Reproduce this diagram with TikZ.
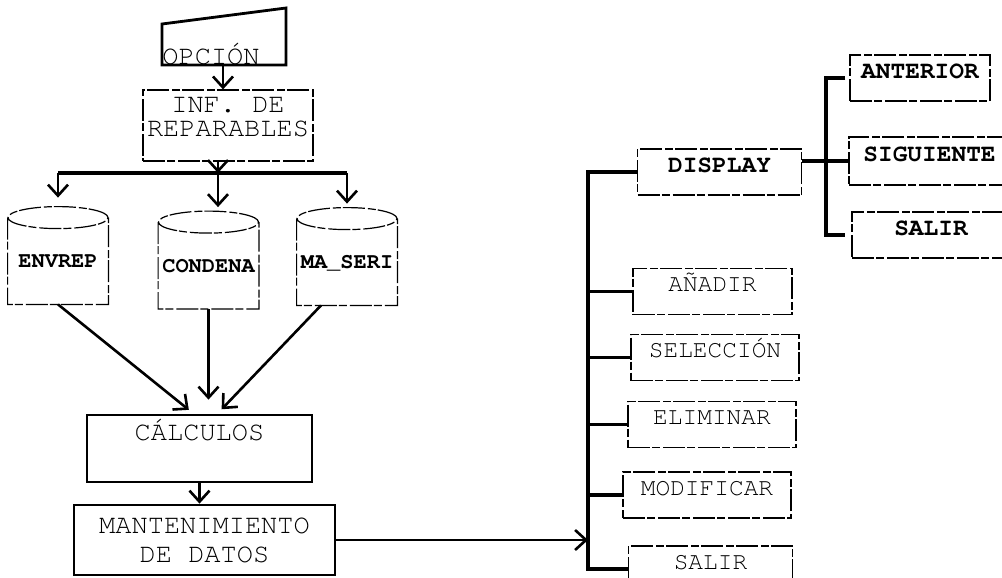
\documentclass[tikz,border=0pt]{standalone}
\usepackage[T1]{fontenc}
\usepackage{courier}
\usepackage{tikz}
\usetikzlibrary{arrows.meta, calc}

\begin{document}
\begin{tikzpicture}[x=0.5pt, y=-0.5pt,
    dbox/.style={draw, line width=0.6pt, dash pattern=on 11pt off 1pt on 4pt off 1.5pt},
    opt/.style={dbox, minimum width=82pt, minimum height=23pt, text height=7pt, text depth=7pt},
    drum/.style={minimum width=50pt, minimum height=43pt, text height=6.5pt, text depth=0pt, font=\ttfamily\bfseries\fontsize{11}{13}\selectfont},
    big/.style={font=\ttfamily\fontsize{13.5}{14.5}\selectfont},
    heavy/.style={font=\ttfamily\bfseries\fontsize{12.25}{14}\selectfont},
    arr/.style={-{Straight Barb[length=5.5pt,width=10pt]}, line width=1.3pt},
    bus/.style={line width=1.6pt}]
\useasboundingbox (0,0) rectangle (1002,578);

\draw[line width=1.4pt] (162,24) -- (286,8) -- (286,65) -- (162,65) -- cycle;
\begin{scope}[every node/.style={font=\ttfamily\fontsize{12.25}{14}\selectfont, inner sep=0pt, align=center}]
    \node[big, anchor=base] (op) at (211,64) {OPCIÓN};
    \node[big, dbox, minimum width=85pt, minimum height=35.5pt, font=\ttfamily\fontsize{13.5}{12.25}\selectfont] (inf) at (228,125.5) {INF. DE\\REPARABLES\rule[-8.5pt]{0pt}{0pt}};
    \node[drum] (env) at (58,261) {ENVREP};
    \node[drum] (con) at (208.5,265.5) {CONDENA};
    \node[drum] (ma) at (347,262) {MA\_SERI};
    \node[big, draw, line width=1.4pt, minimum width=112.5pt, minimum height=33.5pt, text height=4pt, text depth=12pt] (calc) at (199.5,448.5) {CÁLCULOS};
    \node[big, draw, line width=1.4pt, minimum width=130.5pt, minimum height=35pt] (mant) at (204.5,540) {MANTENIMIENTO\\DE DATOS};
    \node[opt, heavy] (disp) at (719.5,172) {DISPLAY};
    \node[opt, minimum width=79.5pt] (anad) at (712.5,291.5) {AÑADIR};
    \node[opt, minimum width=84pt] (sel) at (715,357.5) {SELECCIÓN};
    \node[opt, minimum width=84pt] (elim) at (712,424.5) {ELIMINAR};
    \node[opt, minimum width=84pt] (modif) at (707,495) {MODIFICAR};
    \node[opt] (sal1) at (710.5,569) {SALIR};
    \node[opt, heavy, minimum width=70pt] (ant) at (920,78) {ANTERIOR};
    \node[opt, heavy, minimum width=80.5pt, minimum height=24pt] (sig) at (929.5,161) {SIGUIENTE};
    \node[opt, heavy, minimum width=79pt] (sal2) at (931,235) {SALIR};
\end{scope}

\foreach \c in {env,con,ma}
    \draw[dbox] (\c.north west) -- (\c.south west) -- (\c.south east) -- (\c.north east)
        (\c.north) ellipse [x radius=25pt, y radius=5.5pt];

\coordinate (o) at (223,65);
\coordinate (j) at (218,173);
\coordinate (r) at (588,173);
\coordinate (s) at (826,72);

\draw[arr] (o) -- (o |- inf.north);
\draw[arr] (inf.south -| j) -- (j);
\draw[bus] (env.north |- j) -- (ma.north |- j);
\draw[arr, shorten >=10pt] (env.north |- j) -- (env.north);
\draw[arr, shorten >=7.5pt] (j) -- (j |- con.north);
\draw[arr, shorten >=7.5pt] (ma.north |- j) -- (ma.north);

\draw[arr, shorten >=3pt] (env.south) -- ([xshift=-3pt]calc.north);
\draw[arr, shorten >=7pt] (con.south) -- (con.south |- calc.north);
\draw[arr, shorten >=3pt] ([xshift=-13pt]ma.south) -- ([xshift=9pt]calc.north);
\draw[arr] (calc.south) -- (calc.south |- mant.north);
\draw[arr] (mant.east) -- (r |- mant.east);

\draw[bus] (disp.west) -| (r |- sal1.west) -- (sal1.west);
\foreach \n in {anad,sel,elim,modif}
    \draw[bus] (r |- \n.west) -- (\n.west);
\draw[bus] (disp.east |- sig.west) -- (sig.west);
\draw[bus] ([xshift=-2pt]ant.west) -| (s |- sal2.west) -- ([xshift=-3pt]sal2.west);
\end{tikzpicture}
\end{document}
